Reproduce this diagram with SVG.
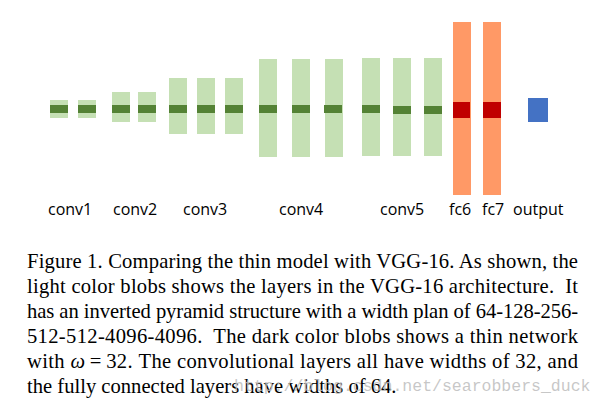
<svg xmlns="http://www.w3.org/2000/svg" width="603" height="407" viewBox="0 0 603 407">
<style>
.lg{fill:#C5E0B4}
.dg{fill:#548235}
.or{fill:#FF9966}
.rd{fill:#C00000}
.bl{fill:#4472C4}
.lbl{font-family:"Open Sans","Liberation Sans",sans-serif;font-size:16px;fill:#000}
.cap{font-family:"Liberation Serif","Times New Roman",serif;font-size:20.6px;fill:#000}
.wm{font-family:"Liberation Mono","DejaVu Sans Mono",monospace;font-size:16.5px;fill:#bdbdbd;fill-opacity:0.85}
</style>
<rect width="603" height="407" fill="#fff"/>
<g id="conv1">
<rect class="lg" x="50" y="100" width="18" height="18"/><rect class="dg" x="50" y="105" width="18" height="8"/>
<rect class="lg" x="78" y="100" width="18" height="18"/><rect class="dg" x="78" y="105" width="18" height="8"/>
<text class="lbl" x="48" y="215">conv1</text>
</g>
<g id="conv2">
<rect class="lg" x="112" y="92" width="18" height="30"/><rect class="dg" x="112" y="105" width="18" height="8"/>
<rect class="lg" x="138" y="92" width="18" height="30"/><rect class="dg" x="138" y="105" width="18" height="8"/>
<text class="lbl" x="113" y="215">conv2</text>
</g>
<g id="conv3">
<rect class="lg" x="169" y="78" width="18" height="56"/><rect class="dg" x="169" y="105" width="18" height="8"/>
<rect class="lg" x="197" y="78" width="18" height="56"/><rect class="dg" x="197" y="105" width="18" height="8"/>
<rect class="lg" x="225" y="78" width="18" height="56"/><rect class="dg" x="225" y="105" width="18" height="8"/>
<text class="lbl" x="183" y="215">conv3</text>
</g>
<g id="conv4">
<rect class="lg" x="259" y="59" width="18" height="98"/><rect class="dg" x="259" y="105" width="18" height="8"/>
<rect class="lg" x="292" y="59" width="18" height="98"/><rect class="dg" x="292" y="105" width="18" height="8"/>
<rect class="lg" x="325" y="59" width="18" height="98"/><rect class="dg" x="324" y="105" width="18" height="8"/>
<text class="lbl" x="279" y="215">conv4</text>
</g>
<g id="conv5">
<rect class="lg" x="362" y="58" width="18" height="98"/><rect class="dg" x="362" y="105" width="18" height="8"/>
<rect class="lg" x="393" y="58" width="18" height="98"/><rect class="dg" x="393" y="106" width="18" height="8"/>
<rect class="lg" x="424" y="58" width="18" height="98"/><rect class="dg" x="424" y="106" width="18" height="8"/>
<text class="lbl" x="380" y="215">conv5</text>
</g>
<g id="fc6">
<rect class="or" x="453" y="22" width="18" height="173"/><rect class="rd" x="453" y="102" width="17" height="16"/>
<text class="lbl" x="449" y="215">fc6</text>
</g>
<g id="fc7">
<rect class="or" x="483" y="22" width="18" height="173"/><rect class="rd" x="483" y="102" width="18" height="16"/>
<text class="lbl" x="482" y="215">fc7</text>
</g>
<g id="output">
<rect class="bl" x="528" y="98" width="20" height="24"/>
<text class="lbl" x="513" y="215">output</text>
</g>
<g id="connectors"></g>
<g id="caption">
<text class="cap" x="27" y="268" textLength="551" lengthAdjust="spacing">Figure 1. Comparing the thin model with VGG-16. As shown, the</text>
<text class="cap" x="27" y="293" textLength="551" lengthAdjust="spacing">light color blobs shows the layers in the VGG-16 architecture.&#160; It</text>
<text class="cap" x="27" y="318" textLength="551" lengthAdjust="spacing">has an inverted pyramid structure with a width plan of 64-128-256-</text>
<text class="cap" x="27" y="343" textLength="551" lengthAdjust="spacing">512-512-4096-4096.&#160; The dark color blobs shows a thin network</text>
<text class="cap" x="27" y="368" textLength="551" lengthAdjust="spacing">with <tspan font-style="italic">ω</tspan>&#8201;=&#8201;32. The convolutional layers all have widths of 32, and</text>
<text class="cap" x="27" y="393">the fully connected layers have widths of 64.</text>
</g>
<text class="wm" x="234" y="391">http://blog.csdn.net/searobbers_duck</text>
</svg>
